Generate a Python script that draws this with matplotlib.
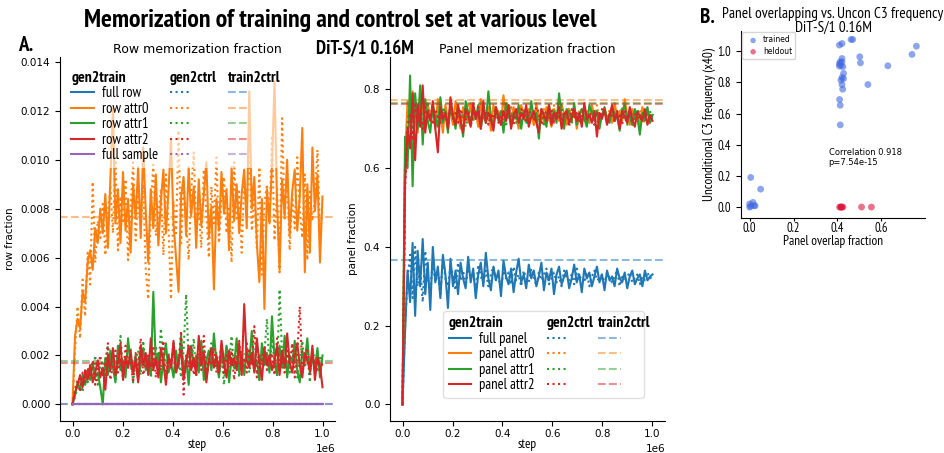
import numpy as np
import matplotlib
matplotlib.use("Agg")
import matplotlib.pyplot as plt
import matplotlib.text as mtext
import matplotlib.font_manager as fm
from matplotlib.legend_handler import HandlerBase


def pick_narrow():
    names = {f.name for f in fm.fontManager.ttflist}
    for n in ("PT Sans Narrow", "Asap Condensed", "Liberation Sans Narrow"):
        if n in names:
            return {"family": n}
    return {"family": "DejaVu Sans", "stretch": "condensed"}


NARROW = pick_narrow()

# ---------------- data ----------------
# row memorization fraction (units of 1e-4), gen2train / gen2ctrl
row_attr0_train = [0, 28, 35, 31, 46, 42, 58, 63, 55, 72, 66, 80, 70, 86, 64, 92, 121, 74, 88, 66,
                   95, 71, 84, 62, 90, 76, 97, 68, 105, 79, 58, 88, 72, 94, 65, 83, 96, 70, 87, 108,
                   74, 60, 46, 85, 93, 69, 97, 77, 89, 64, 92, 73, 86, 99, 68, 81, 47, 84, 71, 95,
                   78, 88, 63, 97, 75, 90, 70, 86, 96, 72, 128, 80, 93, 66, 50, 84, 39, 88, 74, 98,
                   132, 82, 55, 92, 77, 100, 69, 87, 96, 71, 85, 113, 54, 90, 62, 105, 79, 94, 58, 85]
row_attr0_ctrl = [0, 22, 40, 27, 51, 36, 62, 49, 91, 58, 75, 68, 82, 61, 78, 89, 70, 101, 63, 85,
                  74, 92, 59, 80, 99, 67, 86, 72, 90, 55, 43, 81, 98, 69, 77, 88, 61, 94, 73, 43,
                  83, 70, 112, 66, 91, 75, 59, 87, 103, 72, 80, 64, 96, 78, 60, 89, 74, 101, 66, 84,
                  93, 70, 81, 58, 99, 76, 87, 62, 92, 79, 108, 71, 85, 64, 97, 53, 82, 90, 74, 110,
                  67, 88, 54, 117, 76, 95, 63, 86, 72, 101, 80, 68, 94, 59, 88, 75, 84, 104, 70, 80]
row_attr1_train = [0, 4, 9, 6, 12, 8, 14, 10, 17, 11, 13, 7, 0, 19, 12, 22, 15, 9, 24, 14,
                   18, 11, 27, 16, 13, 20, 10, 17, 23, 14, 19, 12, 46, 16, 21, 9, 18, 25, 13, 17,
                   11, 22, 15, 28, 12, 19, 8, 24, 16, 20, 13, 26, 10, 18, 22, 14, 29, 17, 11, 21,
                   15, 24, 9, 19, 16, 27, 13, 20, 12, 23, 17, 30, 14, 18, 10, 25, 16, 21, 13, 36,
                   19, 12, 24, 15, 28, 11, 20, 17, 26, 14, 9, 22, 18, 27, 13, 19, 15, 23, 11, 20]
row_attr1_ctrl = [0, 3, 7, 11, 5, 13, 9, 16, 12, 20, 8, 15, 18, 11, 24, 14, 21, 10, 17, 28,
                  13, 19, 16, 23, 9, 18, 22, 12, 26, 15, 20, 11, 17, 24, 14, 31, 18, 10, 21, 16,
                  25, 13, 19, 11, 22, 45, 17, 14, 27, 12, 20, 16, 23, 10, 18, 25, 15, 21, 13, 19,
                  8, 24, 17, 28, 14, 20, 11, 22, 16, 26, 13, 19, 15, 23, 10, 18, 21, 35, 14, 27,
                  17, 12, 47, 20, 16, 24, 13, 19, 22, 11, 18, 26, 15, 21, 9, 23, 17, 14, 20, 16]
row_attr2_train = [0, 5, 8, 12, 7, 14, 10, 16, 9, 13, 18, 11, 15, 6, 20, 14, 23, 12, 17, 25,
                   10, 19, 15, 22, 13, 18, 9, 24, 16, 21, 12, 27, 14, 19, 11, 23, 17, 8, 20, 15,
                   26, 13, 18, 22, 10, 17, 24, 14, 19, 12, 28, 16, 21, 9, 18, 23, 15, 20, 13, 26,
                   17, 11, 22, 16, 19, 14, 25, 12, 41, 18, 15, 21, 13, 27, 17, 10, 23, 16, 20, 14,
                   18, 24, 12, 22, 15, 29, 17, 13, 20, 25, 16, 11, 21, 18, 14, 24, 10, 19, 16, 7]
row_attr2_ctrl = [0, 6, 10, 5, 13, 9, 15, 11, 18, 8, 14, 20, 12, 17, 25, 10, 16, 22, 13, 19,
                  11, 24, 15, 18, 9, 21, 14, 27, 12, 17, 20, 15, 23, 11, 18, 14, 26, 10, 19, 16,
                  22, 13, 17, 30, 4, 20, 15, 24, 12, 18, 21, 14, 28, 11, 19, 16, 23, 13, 17, 25,
                  12, 20, 15, 22, 10, 18, 26, 14, 19, 13, 23, 16, 32, 11, 20, 17, 24, 14, 18, 21,
                  12, 27, 15, 19, 13, 22, 16, 25, 11, 20, 40, 14, 18, 23, 12, 21, 15, 19, 13, 17]
row_full_train = [0] * 100
row_full_ctrl = [0] * 100
sample_full_train = [0] * 100
sample_full_ctrl = [0] * 100
# train2ctrl reference levels (row fraction)
row_ref = {"full row": 0.0, "row attr0": 0.00767, "row attr1": 0.00177,
           "row attr2": 0.00169, "full sample": 0.0}

# panel memorization fraction (units of 1e-3)
panel_full_train = [0, 180, 340, 260, 410, 225, 390, 300, 420, 280, 360, 240, 400, 310, 350, 270, 380, 330, 245, 370,
                    300, 340, 280, 360, 320, 295, 375, 310, 345, 270, 330, 360, 300, 385, 320, 290, 350, 315, 340, 275,
                    365, 325, 305, 345, 285, 335, 370, 310, 330, 295, 355, 320, 340, 300, 325, 360, 290, 335, 315, 345,
                    280, 330, 350, 305, 325, 340, 295, 320, 355, 310, 330, 285, 345, 320, 335, 300, 325, 350, 310, 330,
                    290, 340, 315, 325, 300, 345, 320, 310, 335, 295, 325, 340, 305, 320, 330, 300, 340, 315, 325, 330]
panel_full_ctrl = [0, 200, 320, 380, 270, 400, 300, 350, 260, 390, 320, 290, 360, 310, 340, 280, 370, 320, 300, 350,
                   330, 290, 360, 315, 340, 300, 345, 320, 335, 290, 355, 325, 310, 340, 300, 330, 350, 315, 325, 295,
                   340, 320, 335, 305, 350, 315, 330, 300, 340, 320, 310, 345, 325, 300, 335, 315, 330, 345, 305, 320,
                   335, 310, 325, 300, 340, 320, 315, 330, 305, 345, 320, 325, 310, 335, 300, 325, 340, 315, 320, 330,
                   305, 335, 320, 310, 325, 340, 300, 330, 315, 325, 335, 310, 320, 330, 305, 325, 315, 335, 320, 325]
panel_attr0_train = [0, 620, 770, 710, 795, 730, 690, 780, 745, 705, 765, 720, 755, 700, 775, 735, 690, 760, 725, 745,
                     710, 770, 730, 700, 755, 740, 715, 765, 725, 745, 705, 775, 735, 720, 750, 695, 760, 730, 745, 710,
                     785, 725, 740, 715, 755, 730, 700, 760, 735, 720, 750, 740, 710, 765, 725, 745, 715, 755, 730, 705,
                     750, 735, 720, 760, 740, 710, 745, 725, 755, 700, 735, 750, 720, 740, 715, 760, 730, 745, 710, 735,
                     750, 725, 740, 715, 765, 730, 745, 720, 775, 735, 710, 750, 725, 740, 705, 755, 730, 745, 715, 735]
panel_attr0_ctrl = [0, 600, 740, 700, 760, 715, 745, 725, 755, 705, 740, 730, 760, 720, 745, 710, 750, 735, 725, 755,
                    715, 740, 730, 705, 745, 725, 760, 720, 735, 745, 710, 750, 730, 720, 755, 735, 715, 745, 725, 740,
                    705, 750, 730, 760, 720, 735, 745, 715, 740, 730, 725, 755, 710, 745, 735, 720, 750, 730, 715, 740,
                    760, 725, 735, 705, 745, 730, 755, 720, 740, 710, 750, 735, 725, 745, 715, 740, 730, 760, 720, 735,
                    745, 710, 750, 725, 740, 730, 715, 755, 735, 720, 745, 705, 740, 730, 750, 725, 715, 745, 730, 740]
panel_attr1_train = [0, 680, 600, 835, 554, 790, 700, 810, 660, 775, 720, 690, 760, 730, 705, 780, 715, 745, 690, 765,
                     735, 700, 755, 725, 680, 770, 740, 710, 750, 725, 760, 700, 740, 715, 795, 730, 705, 755, 720, 745,
                     690, 765, 735, 710, 740, 725, 760, 700, 745, 730, 715, 770, 725, 740, 675, 750, 735, 705, 760, 725,
                     745, 715, 790, 730, 700, 750, 740, 720, 765, 710, 735, 750, 725, 705, 760, 740, 720, 745, 700, 735,
                     755, 725, 715, 750, 740, 730, 695, 745, 760, 720, 735, 710, 750, 730, 685, 740, 725, 755, 715, 735]
panel_attr1_ctrl = [0, 580, 720, 760, 690, 770, 710, 750, 730, 700, 760, 725, 745, 705, 740, 720, 755, 735, 710, 745,
                    730, 715, 760, 725, 740, 705, 750, 735, 720, 745, 730, 710, 755, 725, 740, 715, 735, 750, 720, 745,
                    730, 705, 760, 740, 725, 715, 745, 730, 750, 710, 735, 755, 725, 740, 720, 745, 705, 735, 750, 730,
                    715, 740, 725, 760, 720, 735, 745, 710, 750, 730, 740, 720, 755, 715, 735, 745, 725, 705, 740, 730,
                    750, 720, 735, 745, 715, 740, 725, 755, 730, 710, 745, 735, 720, 750, 725, 740, 715, 735, 745, 725]
panel_attr2_train = [0, 560, 700, 650, 790, 620, 760, 705, 810, 690, 745, 720, 770, 700, 640, 755, 725, 740, 700, 780,
                     730, 710, 760, 720, 690, 750, 735, 705, 765, 725, 745, 700, 770, 715, 740, 725, 695, 755, 730, 710,
                     745, 720, 760, 700, 735, 750, 715, 740, 725, 760, 705, 730, 745, 715, 690, 750, 735, 720, 760, 710,
                     740, 725, 755, 700, 735, 745, 715, 730, 750, 720, 740, 705, 765, 725, 735, 715, 745, 680, 740, 725,
                     750, 710, 735, 760, 720, 740, 700, 745, 730, 715, 755, 725, 705, 740, 735, 720, 750, 710, 735, 720]
panel_attr2_ctrl = [0, 540, 690, 740, 670, 760, 720, 745, 700, 755, 725, 740, 710, 750, 730, 715, 745, 735, 705, 760,
                    725, 740, 715, 750, 730, 720, 745, 705, 740, 735, 755, 720, 730, 745, 710, 740, 725, 750, 715, 735,
                    745, 720, 760, 730, 710, 740, 725, 750, 735, 715, 745, 730, 720, 755, 740, 710, 735, 745, 725, 750,
                    715, 740, 730, 720, 745, 735, 705, 750, 725, 740, 715, 735, 755, 720, 740, 730, 710, 745, 725, 750,
                    735, 715, 740, 730, 720, 745, 735, 710, 750, 725, 740, 715, 735, 745, 720, 730, 740, 715, 735, 725]
panel_ref = {"full panel": 0.367, "panel attr0": 0.772, "panel attr1": 0.766, "panel attr2": 0.764}

# panel B scatter
trained_x = [0.0, 0.0, 0.005, 0.015, 0.02, 0.025, 0.005, 0.05,
             0.409, 0.421, 0.413, 0.421, 0.416, 0.409, 0.421, 0.428, 0.421, 0.428, 0.416, 0.421,
             0.424, 0.41, 0.413, 0.413, 0.425, 0.409, 0.462, 0.47, 0.502, 0.505, 0.539, 0.63, 0.74, 0.76]
trained_y = [0.02, 0.0, 0.005, 0.03, 0.01, 0.008, 0.19, 0.115,
             1.039, 1.049, 0.931, 0.931, 0.91, 0.904, 0.953, 0.857, 0.831, 0.824, 0.814, 0.786,
             0.756, 0.69, 0.653, 0.527, 0.9, 0.92, 1.075, 1.075, 0.964, 0.925, 0.786, 0.906, 0.979, 1.032]
heldout_x = [0.41, 0.415, 0.418, 0.42, 0.425, 0.51, 0.555]
heldout_y = [0.0, 0.0, 0.0, 0.0, 0.0, 0.0, 0.0]

COLORS = {"full": "#1f77b4", "attr0": "#ff7f0e", "attr1": "#2ca02c", "attr2": "#d62728", "sample": "#9467bd"}


class Header:
    def __init__(self, text):
        self.text = text


class HeaderHandler(HandlerBase):
    def legend_artist(self, legend, orig_handle, fontsize, handlebox):
        t = mtext.Text(-handlebox.xdescent, 0, orig_handle.text, fontsize=fontsize * 1.08,
                       fontweight="bold", va="baseline", ha="left", **NARROW)
        handlebox.add_artist(t)
        return t


def three_col_legend(ax, train_lines, ctrl_lines, ref_lines, pad, **kw):
    handles = [Header("gen2train")] + train_lines + [Header("gen2ctrl")] + ctrl_lines \
        + [Header("train2ctrl")] + ref_lines
    labels = [""] + [l.get_label() for l in train_lines] + [""] + [pad] * len(ctrl_lines) \
        + [""] + [pad] * len(ref_lines)
    return ax.legend(handles, labels, ncol=3, handler_map={Header: HeaderHandler()},
                     prop=fm.FontProperties(size=10.5, **NARROW), handlelength=1.55, handletextpad=0.55,
                     columnspacing=0.8, labelspacing=0.1, borderpad=0.4, framealpha=0.6, **kw)


fig = plt.figure(figsize=(9.45, 4.53), dpi=100)
axA1 = fig.add_axes([0.0635, 0.0706, 0.291, 0.8035])
axA2 = fig.add_axes([0.4127, 0.0706, 0.291, 0.8035])
axB = fig.add_axes([0.784, 0.5188, 0.195, 0.413])

# ---------- row panel ----------
row_series = [
    ("full row", "full", row_full_train, row_full_ctrl),
    ("row attr0", "attr0", row_attr0_train, row_attr0_ctrl),
    ("row attr1", "attr1", row_attr1_train, row_attr1_ctrl),
    ("row attr2", "attr2", row_attr2_train, row_attr2_ctrl),
    ("full sample", "sample", sample_full_train, sample_full_ctrl),
]
tr, ct, rf = [], [], []
for name, key, v_train, v_ctrl in row_series:
    c = COLORS[key]
    l1, = axA1.plot(np.linspace(0, 1e6, len(v_train)), np.array(v_train) * 1e-4, color=c, lw=1.5, label=name)
    l2, = axA1.plot(np.linspace(0, 1e6, len(v_ctrl)), np.array(v_ctrl) * 1e-4, color=c, lw=1.5, ls=":")
    l3 = axA1.axhline(row_ref[name], color=c, lw=1.5, ls="--", alpha=0.5)
    tr.append(l1); ct.append(l2); rf.append(l3)
three_col_legend(axA1, tr, ct, rf, " " * 5, loc="upper left", bbox_to_anchor=(0.02, 0.978),
                 borderaxespad=0, edgecolor="none")
axA1.set_xlim(-0.05e6, 1.05e6)
axA1.set_ylim(-0.00068, 0.0142)
axA1.set_title("Row memorization fraction", fontsize=9, pad=3)
axA1.set_ylabel("row fraction", fontsize=7.5)
axA1.set_xlabel("step", fontsize=9.5, labelpad=-1, **NARROW)

# ---------- panel panel ----------
panel_series = [
    ("full panel", "full", panel_full_train, panel_full_ctrl),
    ("panel attr0", "attr0", panel_attr0_train, panel_attr0_ctrl),
    ("panel attr1", "attr1", panel_attr1_train, panel_attr1_ctrl),
    ("panel attr2", "attr2", panel_attr2_train, panel_attr2_ctrl),
]
tr, ct, rf = [], [], []
for name, key, v_train, v_ctrl in panel_series:
    c = COLORS[key]
    l1, = axA2.plot(np.linspace(0, 1e6, len(v_train)), np.array(v_train) * 1e-3, color=c, lw=1.5, label=name)
    l2, = axA2.plot(np.linspace(0, 1e6, len(v_ctrl)), np.array(v_ctrl) * 1e-3, color=c, lw=1.5, ls=":")
    l3 = axA2.axhline(panel_ref[name], color=c, lw=1.5, ls="--", alpha=0.5)
    tr.append(l1); ct.append(l2); rf.append(l3)
three_col_legend(axA2, tr, ct, rf, " " * 3, loc="lower right", bbox_to_anchor=(0.924, 0.063),
                 borderaxespad=0)
axA2.set_xlim(-0.05e6, 1.05e6)
axA2.set_ylim(-0.042, 0.882)
axA2.set_title("Panel memorization fraction", fontsize=9, pad=3)
axA2.set_ylabel("panel fraction", fontsize=7.5)
axA2.set_xlabel("step", fontsize=9.5, labelpad=-1, **NARROW)

for ax in (axA1, axA2):
    ax.tick_params(labelsize=7.5)
    ax.tick_params(axis="x", pad=2.5)
    ax.xaxis.get_offset_text().set_fontsize(7.5)
    for s in ("top", "right"):
        ax.spines[s].set_visible(False)

# ---------- panel B ----------
axB.scatter(trained_x, trained_y, s=24, color="royalblue", alpha=0.6, edgecolor="none", label="trained")
axB.scatter(heldout_x, heldout_y, s=24, color="crimson", alpha=0.6, edgecolor="none", label="heldout")
axB.set_xlim(-0.04, 0.80)
axB.set_ylim(-0.07, 1.13)
axB.set_xticks([0.0, 0.2, 0.4, 0.6])
axB.set_yticks([0.0, 0.2, 0.4, 0.6, 0.8, 1.0])
axB.tick_params(labelsize=9)
axB.tick_params(axis="x", length=2, pad=1)
for lab in axB.get_xticklabels() + axB.get_yticklabels():
    lab.set(**NARROW)
for s in ("top", "right"):
    axB.spines[s].set_visible(False)
axB.set_title("Panel overlapping vs. Uncon C3 frequency\nDiT-S/1 0.16M", fontsize=11,
              y=0.995, pad=0, linespacing=0.95, **NARROW)
axB.set_xlabel("Panel overlap fraction", fontsize=9.5, labelpad=0, **NARROW)
axB.set_ylabel("Unconditional C3 frequency (x40)", fontsize=9.5, labelpad=1, **NARROW)
axB.text(0.36, 0.38, "Correlation 0.918\np=7.54e-15", fontsize=6, va="top")
axB.legend(loc="upper left", fontsize=5.5, markerscale=0.8, handletextpad=0.3,
           borderpad=0.4, labelspacing=0.3, borderaxespad=0.2)

# ---------- figure texts ----------
fig.text(0.36, 0.954, "Memorization of training and control set at various level",
         ha="center", va="center", fontsize=18.5, fontweight="bold", **NARROW)
fig.text(0.386, 0.892, "DiT-S/1 0.16M", ha="center", va="center", fontsize=13.5,
         fontweight="bold", **NARROW)
fig.text(0.019, 0.90, "A.", ha="left", va="center", fontsize=15, fontweight="bold", **NARROW)
fig.text(0.741, 0.962, "B.", ha="left", va="center", fontsize=15, fontweight="bold", **NARROW)

fig.savefig("out.png", dpi=100)
